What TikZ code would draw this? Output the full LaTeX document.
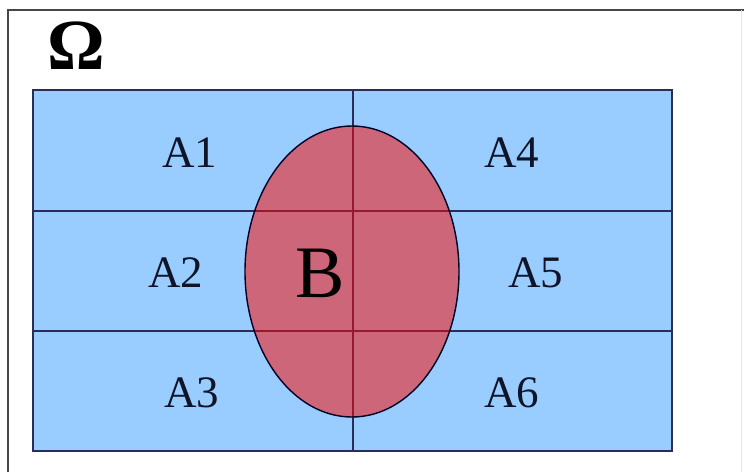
\documentclass[tikz,border=0pt]{standalone}
\usepackage{fontspec}
\setmainfont{Liberation Serif}
\definecolor{regblue}{RGB}{153,204,255}
\definecolor{regpink}{RGB}{204,102,120}
\definecolor{navyline}{RGB}{40,45,90}
\definecolor{redline}{RGB}{150,25,45}
\definecolor{txt}{RGB}{15,20,40}
\definecolor{framegray}{RGB}{70,70,70}
\begin{document}
\begin{tikzpicture}[x=1pt,y=-1pt,
  lbl/.style={font=\fontsize{45}{45}\selectfont, text=txt, inner sep=0pt},
  bigl/.style={font=\fontsize{74}{74}\selectfont, text=black, inner sep=0pt},
  grid/.style={line width=1.3pt}]
\useasboundingbox (0,0) rectangle (744,472);
\fill[white] (0,0) rectangle (744,472);
% frame
\draw[framegray, line width=1.5pt] (8,472) -- (8,10) -- (744,10);
\draw[black!10, line width=0.8pt] (741,10) -- (741,472);
% omega
\node[bigl, font=\fontsize{72}{72}\selectfont\bfseries] (omega) at (76,46) {Ω};
% rectangle
\coordinate (tl) at (33,90);
\coordinate (br) at (672,451);
\fill[regblue] (tl) rectangle (br);
% ellipse
\coordinate (ec) at (352,271.5);
\fill[regpink] (ec) ellipse [x radius=107, y radius=145.5];
% grid lines outside/inside
\draw[grid, navyline] (33,211) -- (672,211) (33,331) -- (672,331) (353,90) -- (353,451);
\begin{scope}
  \clip (ec) ellipse [x radius=107, y radius=145.5];
  \draw[grid, redline] (33,211) -- (672,211) (33,331) -- (672,331) (353,90) -- (353,451);
\end{scope}
\draw[black!85!blue, line width=1.4pt] (ec) ellipse [x radius=107, y radius=145.5];
\draw[navyline, line width=1.8pt] (tl) rectangle (br);
% labels
\node[lbl] (a1) at (190,153) {A1};
\node[lbl] (a2) at (176,273) {A2};
\node[lbl] (a3) at (192,393) {A3};
\node[lbl] (a4) at (512,153) {A4};
\node[lbl] (a5) at (536,273) {A5};
\node[lbl] (a6) at (512,393) {A6};
\node[bigl] (b) at (320,273) {B};
\end{tikzpicture}
\end{document}
